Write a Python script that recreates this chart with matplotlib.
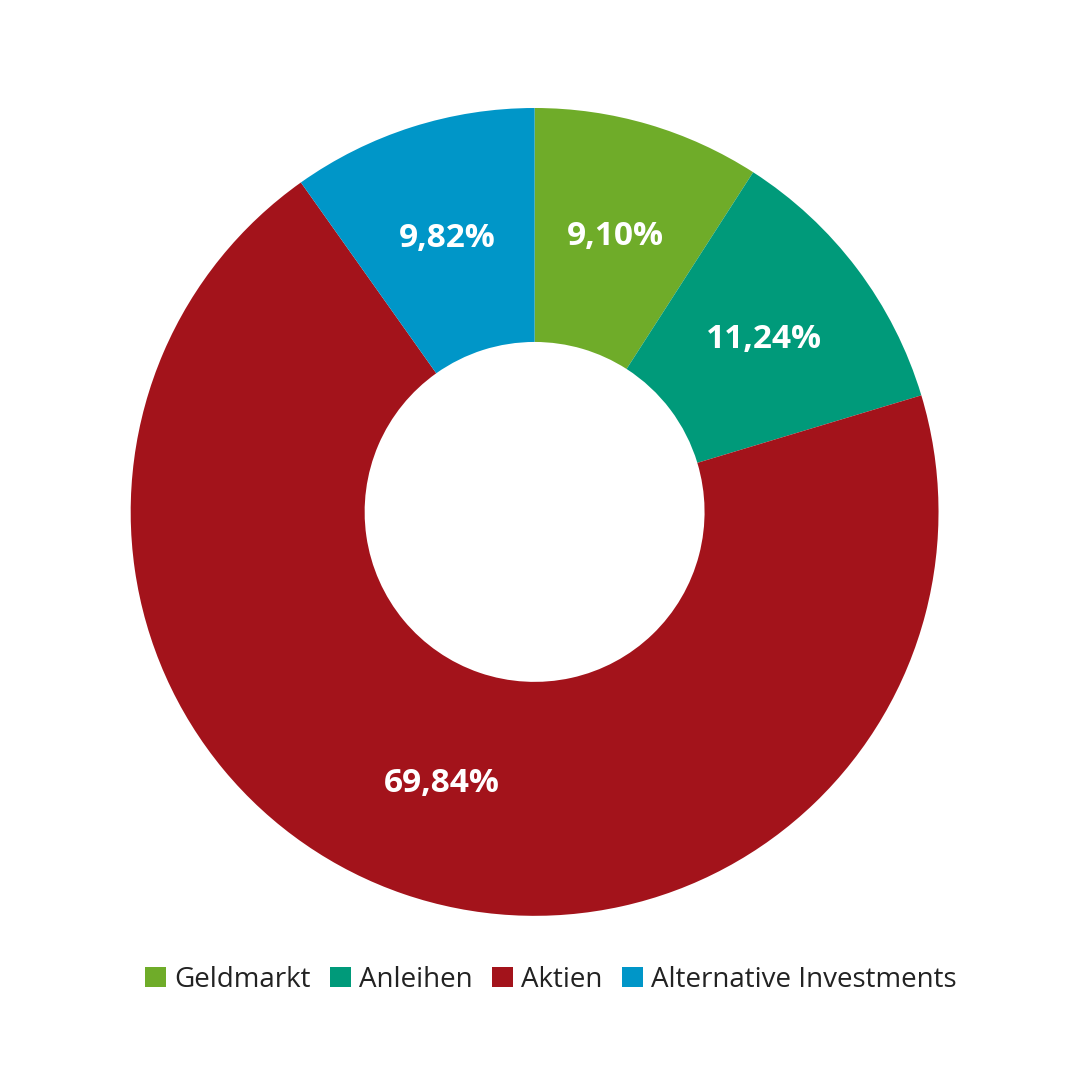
import matplotlib
matplotlib.use("Agg")
import matplotlib.pyplot as plt
from matplotlib.patches import Patch

categories = ["Geldmarkt", "Anleihen", "Aktien", "Alternative Investments"]
values = [9.10, 11.24, 69.84, 9.82]
labels = ["9,10%", "11,24%", "69,84%", "9,82%"]
colors = ["#6fac29", "#009a7a", "#a3131b", "#0096c8"]

fig = plt.figure(figsize=(10.8, 10.8), dpi=100)
ax = fig.add_axes([0.121, 0.152, 0.748, 0.748])
wedges, _ = ax.pie(values, colors=colors, startangle=90, counterclock=False,
                   radius=1, wedgeprops=dict(width=1 - 170 / 404, edgecolor="white", linewidth=0))
import numpy as np
total = sum(values)
cum = 0
for v, lab in zip(values, labels):
    mid = 90 - (cum + v / 2) / total * 360
    cum += v
    r = 0.71
    ax.text(r * np.cos(np.radians(mid)), r * np.sin(np.radians(mid)), lab,
            ha="center", va="center", color="white", fontsize=24, fontweight="bold",
            family="Open Sans")
ax.set_xlim(-1, 1); ax.set_ylim(-1, 1); ax.set_aspect("equal"); ax.axis("off")

handles = [Patch(facecolor=c, label=n) for c, n in zip(colors, categories)]
fig.legend(handles=handles, loc="center", bbox_to_anchor=(0.51, 0.093), ncol=4, frameon=False,
           prop=dict(family="Open Sans", size=20), handlelength=0.75, handleheight=0.75,
           handletextpad=0.3, columnspacing=0.7, labelcolor="#222222")
fig.savefig("out.png", dpi=100, facecolor="white")
